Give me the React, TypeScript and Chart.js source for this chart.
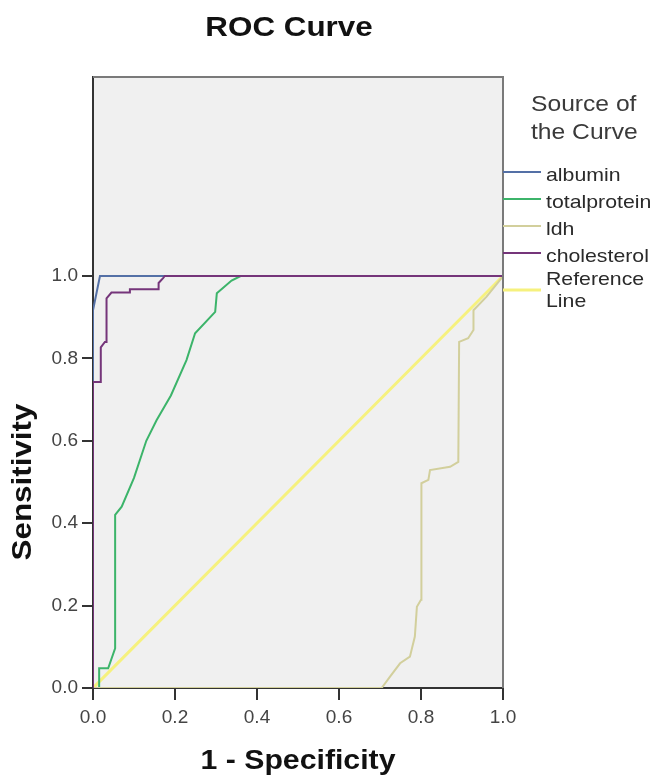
import React, { useEffect, useRef } from "react";
import { Chart, registerables } from "chart.js";

Chart.register(...registerables);

// ---------- data ----------
const seriesNames = ["albumin", "totalprotein", "ldh", "cholesterol", "Reference Line"];

const albuminFpr = [0, 0, 0.017, 1];
const albuminTpr = [0, 0.917, 1.0, 1];

const totalproteinFpr = [0, 0.015, 0.015, 0.037, 0.054, 0.054, 0.07, 0.1, 0.13, 0.155, 0.19, 0.228, 0.249, 0.298, 0.302, 0.338, 0.36, 1];
const totalproteinTpr = [0, 0, 0.048, 0.048, 0.096, 0.42, 0.44, 0.51, 0.6, 0.65, 0.71, 0.796, 0.861, 0.913, 0.958, 0.989, 1.0, 1];

const ldhFpr = [0, 0.704, 0.724, 0.749, 0.773, 0.785, 0.79, 0.8, 0.801, 0.818, 0.822, 0.871, 0.891, 0.893, 0.915, 0.928, 0.928, 0.96, 0.989, 1];
const ldhTpr = [0, 0, 0.027, 0.06, 0.076, 0.125, 0.197, 0.214, 0.497, 0.505, 0.529, 0.537, 0.549, 0.84, 0.849, 0.869, 0.917, 0.95, 0.986, 1];

const cholesterolFpr = [0, 0, 0.019, 0.019, 0.029, 0.033, 0.033, 0.045, 0.09, 0.09, 0.16, 0.16, 0.171, 0.175, 1];
const cholesterolTpr = [0, 0.743, 0.743, 0.827, 0.84, 0.84, 0.946, 0.96, 0.96, 0.968, 0.968, 0.983, 0.995, 1.0, 1];

const referenceFpr = [0, 1];
const referenceTpr = [0, 1];

const tickValues = [0, 0.2, 0.4, 0.6, 0.8, 1.0];

const chartTitle = "ROC Curve";
const xAxisTitle = "1 - Specificity";
const yAxisTitle = "Sensitivity";
const legendTitle = ["Source of", "the Curve"];
const legendLines = [["albumin"], ["totalprotein"], ["ldh"], ["cholesterol"], ["Reference", "Line"]];

// ---------- styles ----------
const colors = ["#5470a6", "#3cb46a", "#d2cf9c", "#75357a", "#f6f17e"];
const widths = [2, 2, 2, 2, 3];
const orders = [2, 4, 3, 1, 5];

const FONT = '"Liberation Sans", Arial, sans-serif';
const STRETCH = 1.12;

function toPoints(xs: number[], ys: number[]) {
  return xs.map((x, i) => ({ x, y: ys[i] }));
}

function drawText(
  ctx: CanvasRenderingContext2D,
  text: string,
  x: number,
  y: number,
  font: string,
  color: string,
  align: "left" | "center" | "right",
  stretch = STRETCH
) {
  ctx.save();
  ctx.font = font;
  ctx.fillStyle = color;
  ctx.textBaseline = "middle";
  ctx.textAlign = "left";
  const w = ctx.measureText(text).width * stretch;
  const left = align === "center" ? x - w / 2 : align === "right" ? x - w : x;
  ctx.translate(left, y);
  ctx.scale(stretch, 1);
  ctx.fillText(text, 0, 0);
  ctx.restore();
}

const decorPlugin = {
  id: "decor",
  beforeDraw(chart: any) {
    const { ctx, chartArea } = chart;
    ctx.save();
    ctx.fillStyle = "#ffffff";
    ctx.fillRect(0, 0, chart.width, chart.height);
    ctx.fillStyle = "#f0f0f0";
    ctx.fillRect(chartArea.left, chartArea.top, chartArea.right - chartArea.left, chartArea.bottom - chartArea.top);
    ctx.restore();
  },
  afterDraw(chart: any) {
    const { ctx, chartArea } = chart;
    const { left, right, top, bottom } = chartArea;
    // top / right frame
    ctx.save();
    ctx.strokeStyle = "#7a7a7a";
    ctx.lineWidth = 2;
    ctx.beginPath();
    ctx.moveTo(left, top);
    ctx.lineTo(right, top);
    ctx.lineTo(right, bottom);
    ctx.stroke();
    ctx.restore();

    // title
    drawText(ctx, chartTitle, 289, 28, `bold 28px ${FONT}`, "#111111", "center");
    // x title
    drawText(ctx, xAxisTitle, (left + right) / 2, 762, `bold 27px ${FONT}`, "#111111", "center");
    // y title (rotated), centred on the 0..1 range
    const y0 = chart.scales.y.getPixelForValue(0);
    const y1 = chart.scales.y.getPixelForValue(1);
    ctx.save();
    ctx.translate(23, (y0 + y1) / 2);
    ctx.rotate(-Math.PI / 2);
    drawText(ctx, yAxisTitle, 0, 0, `bold 28px ${FONT}`, "#111111", "center");
    ctx.restore();

    // legend
    drawText(ctx, legendTitle[0], 531, 105, `22px ${FONT}`, "#3a3a3a", "left");
    drawText(ctx, legendTitle[1], 531, 133, `22px ${FONT}`, "#3a3a3a", "left");
    const rowY = [172, 199, 226, 253, 290];
    chart.data.datasets.forEach((ds: any, i: number) => {
      const y = rowY[i];
      ctx.save();
      ctx.strokeStyle = ds.borderColor;
      ctx.lineWidth = ds.borderWidth;
      ctx.beginPath();
      ctx.moveTo(right, y);
      ctx.lineTo(541, y);
      ctx.stroke();
      ctx.restore();
      const lines = legendLines[i];
      if (lines.length === 1) {
        drawText(ctx, lines[0], 546, y + 4, `19px ${FONT}`, "#2a2a2a", "left");
      } else {
        drawText(ctx, lines[0], 546, y - 10, `19px ${FONT}`, "#2a2a2a", "left");
        drawText(ctx, lines[1], 546, y + 12, `19px ${FONT}`, "#2a2a2a", "left");
      }
    });
  },
};

export default function App() {
  const ref = useRef<HTMLCanvasElement | null>(null);

  useEffect(() => {
    document.body.style.margin = "0";
    const canvas = ref.current;
    if (!canvas) return;
    const seriesX = [albuminFpr, totalproteinFpr, ldhFpr, cholesterolFpr, referenceFpr];
    const seriesY = [albuminTpr, totalproteinTpr, ldhTpr, cholesterolTpr, referenceTpr];

    const chart = new Chart(canvas, {
      type: "line",
      data: {
        datasets: seriesNames.map((name, i) => ({
          label: name,
          data: toPoints(seriesX[i], seriesY[i]),
          borderColor: colors[i],
          backgroundColor: colors[i],
          borderWidth: widths[i],
          pointRadius: 0,
          tension: 0,
          fill: false,
          order: orders[i],
        })),
      },
      options: {
        animation: false,
        responsive: false,
        maintainAspectRatio: false,
        layout: { padding: { left: 0, top: 77, right: 150, bottom: 0 } },
        plugins: {
          legend: { display: false },
          title: { display: false },
          tooltip: { enabled: false },
        },
        scales: {
          x: {
            type: "linear",
            min: 0,
            max: 1,
            z: 1,
            afterBuildTicks: (s: any) => {
              s.ticks = tickValues.map((v) => ({ value: v }));
            },
            afterFit: (s: any) => {
              s.height = 92;
            },
            ticks: {
              font: { family: FONT, size: 19 },
              color: "#444444",
              padding: 6,
              maxRotation: 0,
              callback: (v: any) => Number(v).toFixed(1),
            },
            grid: {
              display: true,
              drawOnChartArea: false,
              drawTicks: true,
              tickLength: 12,
              tickColor: "#333333",
              lineWidth: 2,
            },
            border: { display: true, color: "#333333", width: 2 },
          },
          y: {
            type: "linear",
            min: 0,
            max: 1.483,
            z: 1,
            afterBuildTicks: (s: any) => {
              s.ticks = tickValues.map((v) => ({ value: v }));
            },
            afterFit: (s: any) => {
              s.width = 93;
            },
            ticks: {
              font: { family: FONT, size: 19 },
              color: "#444444",
              padding: 4,
              callback: (v: any) => Number(v).toFixed(1),
            },
            grid: {
              display: true,
              drawOnChartArea: false,
              drawTicks: true,
              tickLength: 11,
              tickColor: "#333333",
              lineWidth: 2,
            },
            border: { display: true, color: "#333333", width: 2 },
          },
        },
      },
      plugins: [decorPlugin],
    });
    return () => chart.destroy();
  }, []);

  return (
    <div style={{ width: 653, height: 780 }}>
      <canvas ref={ref} width={653} height={780} style={{ display: "block", width: 653, height: 780 }} />
    </div>
  );
}
